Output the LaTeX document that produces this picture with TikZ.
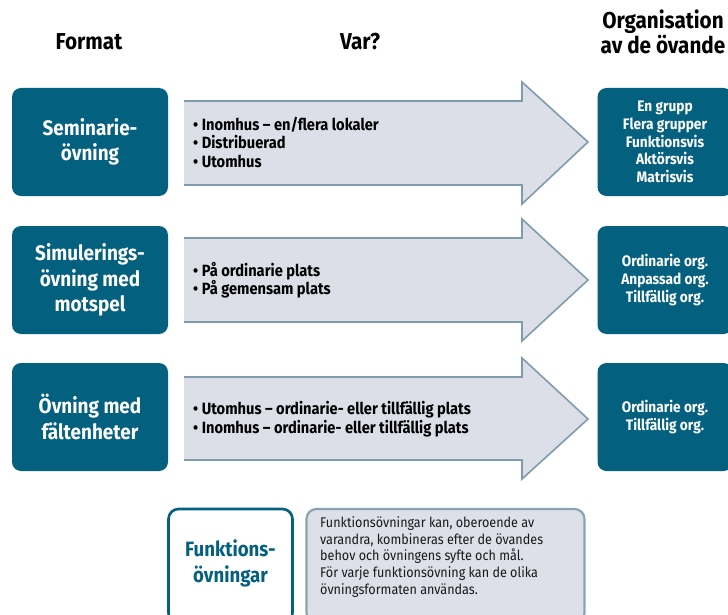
\documentclass[tikz,border=0pt]{standalone}
\usepackage{fontspec}
\setmainfont{Fira Sans}[FakeStretch=0.9]
\begin{document}
\begin{tikzpicture}[x=1pt,y=-1pt,
  teal/.style={fill=tealc,draw=none,rounded corners=9pt},
  fmtbox/.style={teal,text=white,font=\bfseries\fontsize{21}{25.5}\selectfont,align=center,
    minimum width=156pt,minimum height=108pt,inner sep=0pt},
  orgbox/.style={teal,text=white,font=\bfseries\fontsize{15.2}{17.8}\selectfont,align=center,
    minimum width=135pt,minimum height=108pt,inner sep=0pt},
  head/.style={font=\bfseries\fontsize{23}{25}\selectfont,align=center,text=black},
  where/.style={anchor=west,font=\bfseries\fontsize{16.3}{18.5}\selectfont,align=left,inner sep=0pt},
  arrowfill/.style={fill=arrowbg,draw=none},
  arrowline/.style={draw=arrowedge,line width=1.6pt,line join=miter}]
\definecolor{tealc}{HTML}{03607F}
\definecolor{arrowbg}{HTML}{DCDFE7}
\definecolor{arrowedge}{HTML}{7F9BAC}
\definecolor{notebg}{HTML}{DDE0E8}
\definecolor{noteedge}{HTML}{8BA2B3}
\useasboundingbox (0,0) rectangle (728,615);
\clip (0,0) rectangle (728,615);
\fill[white] (0,0) rectangle (728,615);

% column headings
\node[head] (hformat) at (89,42) {Format};
\node[head] (hvar) at (360,42) {Var?};
\node[head] (horg) at (663,32) {Organisation\\av de övande};

% three rows: format box, arrow with locations, organisation box
\foreach \r/\yt/\yb/\cy in {1/101/185/142, 2/238/322/280, 3/377/460/419}{
  \path[arrowfill] (184,\yt) -- (522,\yt) -- (522,\yt-19) -- (588,\cy) -- (522,\yb+19) -- (522,\yb) -- (184,\yb) -- cycle;
  \draw[arrowline] (184,\yt) -- (522,\yt) -- (522,\yt-19) -- (588,\cy) -- (522,\yb+19) -- (522,\yb) -- (184,\yb);
}

\node[fmtbox] (f1) at (90,142) {Seminarie-\\övning};
\node[fmtbox] (f2) at (90,280) {Simulerings-\\övning med\\motspel};
\node[fmtbox] (f3) at (90,417) {Övning med\\fältenheter};

\node[where] (w1) at (193,142) {• Inomhus – en/flera lokaler\\• Distribuerad\\• Utomhus};
\node[where] (w2) at (193,280) {• På ordinarie plats\\• På gemensam plats};
\node[where] (w3) at (193,419) {• Utomhus – ordinarie- eller tillfällig plats\\• Inomhus – ordinarie- eller tillfällig plats};

\node[orgbox] (o1) at (665,142) {En grupp\\Flera grupper\\Funktionsvis\\Aktörsvis\\Matrisvis};
\node[orgbox] (o2) at (665,280) {Ordinarie org.\\Anpassad org.\\Tillfällig org.};
\node[orgbox] (o3) at (665,417) {Ordinarie org.\\Tillfällig org.};

% function exercises and explanatory note
\node[draw=tealc,line width=2.6pt,fill=white,rounded corners=10pt,minimum width=124pt,minimum height=114pt,inner sep=0pt]
  (fn) at (230.5,566) {};
\node[text=tealc,font=\bfseries\fontsize{20.7}{26}\selectfont,align=center] (fntext) at (230.5,563) {Funktions-\\övningar};
\node[draw=noteedge,line width=2.2pt,fill=notebg,rounded corners=10pt,minimum width=278pt,minimum height=114pt,inner sep=0pt]
  (note) at (445.5,566) {};
\node[anchor=north west,font=\fontsize{14}{16.9}\selectfont,align=left,inner sep=0pt,text=black!90] (notetext) at (320,516)
  {Funktionsövningar kan, oberoende av\\varandra, kombineras efter de övandes\\behov och övningens syfte och mål.\\För varje funktionsövning kan de olika\\övningsformaten användas.};
\end{tikzpicture}
\end{document}
